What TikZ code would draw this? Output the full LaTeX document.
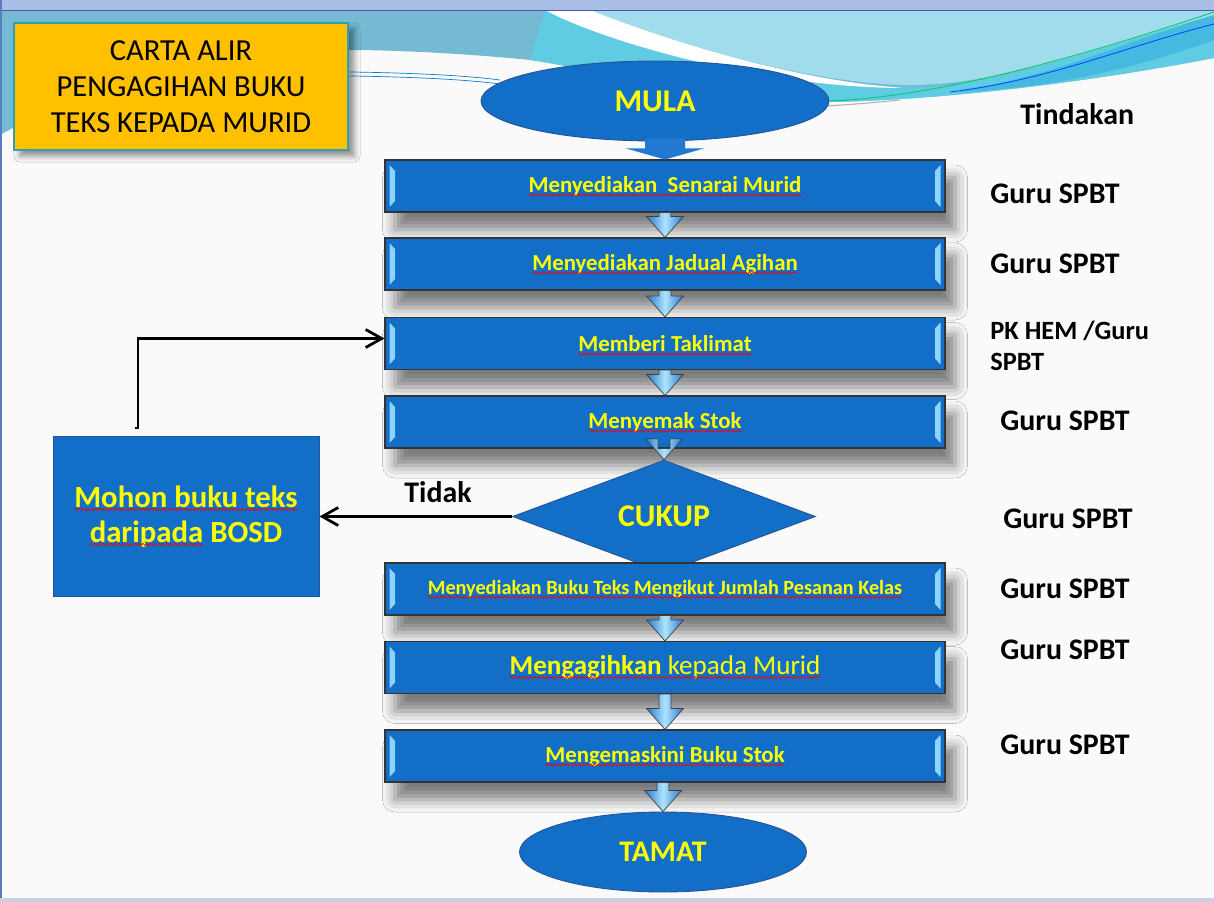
\documentclass[tikz,border=0pt]{standalone}
\usepackage{fontspec}
\setmainfont{Carlito}
\usetikzlibrary{arrows.meta,positioning,calc,shapes.geometric,shadows.blur,decorations.pathmorphing}

\definecolor{boxblue}{RGB}{18,110,198}
\definecolor{edgeblue}{RGB}{35,85,150}
\definecolor{bevelblue}{RGB}{140,212,250}
\definecolor{arrblue}{RGB}{35,120,210}
\definecolor{arrlight}{RGB}{175,228,252}
\definecolor{titleorange}{RGB}{255,192,0}
\definecolor{titleedge}{RGB}{50,160,170}
\definecolor{txtyellow}{RGB}{255,255,0}
\definecolor{bandblue}{RGB}{168,190,230}
\definecolor{tealA}{RGB}{116,186,210}
\definecolor{cyanD}{RGB}{96,204,228}
\definecolor{cyanE}{RGB}{70,185,225}
\definecolor{lightB}{RGB}{160,220,236}
\definecolor{pagebg}{RGB}{250,250,250}
\definecolor{frameblue}{RGB}{90,125,190}
\definecolor{footgray}{RGB}{200,210,230}

\newcommand{\fs}[2]{\fontsize{#1}{#2}\selectfont}
% block arrow between two stacked nodes
\newcommand{\flowdown}[2]{%
  \path[flowarr] let \p1=(#1.south), \p2=(#2.north) in
    (\x2-1.2mm,\y1) -- (\x2+1.2mm,\y1) -- (\x2+1.2mm,\y2+4.2mm) -- (\x2+3.7mm,\y2+4.2mm)
    -- (\x2,\y2) -- (\x2-3.7mm,\y2+4.2mm) -- (\x2-1.2mm,\y2+4.2mm) -- cycle;}
% red spell-check wave under the one-line text of a node
\newcommand{\spellunder}[2]{%
  \draw[spellwave] ([xshift=-0.5#2,yshift=-0.55mm]#1.base) -- ([xshift=0.5#2,yshift=-0.55mm]#1.base);}
\newlength{\wone}\newlength{\wtwo}\newlength{\wthree}\newlength{\wfour}\newlength{\wfive}
\newlength{\wsix}\newlength{\wseven}\newlength{\wmoh}\newlength{\wdar}\newlength{\wdarb}

\begin{document}
\settowidth{\wone}{\bfseries\fs{13}{15}Menyediakan\ \ Senarai Murid}%
\settowidth{\wtwo}{\bfseries\fs{13}{15}Menyediakan Jadual Agihan}%
\settowidth{\wthree}{\bfseries\fs{13}{15}Memberi Taklimat}%
\settowidth{\wfour}{\bfseries\fs{13}{15}Menyemak Stok}%
\settowidth{\wfive}{\bfseries\fs{11.5}{13}Menyediakan Buku Teks Mengikut Jumlah Pesanan Kelas}%
\settowidth{\wsix}{\fs{15.4}{17}\textbf{Mengagihkan} kepada Murid}%
\settowidth{\wseven}{\bfseries\fs{13}{15}Mengemaskini Buku Stok}%
\settowidth{\wmoh}{\bfseries\fs{17.5}{20}Mohon buku teks}%
\settowidth{\wdar}{\bfseries\fs{17.5}{20}daripada BOSD}%
\settowidth{\wdarb}{\bfseries\fs{17.5}{20}daripada}%
\begin{tikzpicture}[
  x=0.2mm, y=-0.2mm,
  every node/.style={inner sep=0pt},
  procbox/.style={draw=black!80, line width=0.6pt, fill=boxblue, minimum width=112mm,
    minimum height=10.4mm, text=txtyellow, font=\bfseries\fs{13}{15},
    blur shadow={shadow xshift=2mm, shadow yshift=-3.5mm, shadow blur radius=2.5mm, shadow opacity=50},
    path picture={
      \fill[bevelblue] ([shift={(0.9mm,-1mm)}]path picture bounding box.north west)
        -- ([shift={(2mm,-2.2mm)}]path picture bounding box.north west)
        -- ([shift={(2mm,2.2mm)}]path picture bounding box.south west)
        -- ([shift={(0.9mm,1mm)}]path picture bounding box.south west) -- cycle;
      \fill[bevelblue] ([shift={(-0.9mm,-1mm)}]path picture bounding box.north east)
        -- ([shift={(-2mm,-2.2mm)}]path picture bounding box.north east)
        -- ([shift={(-2mm,2.2mm)}]path picture bounding box.south east)
        -- ([shift={(-0.9mm,1mm)}]path picture bounding box.south east) -- cycle;
    }},
  term/.style={ellipse, draw=edgeblue, line width=0.5pt, fill=boxblue, text=txtyellow,
    font=\bfseries\fs{18}{20}, minimum height=16mm},
  decide/.style={diamond, draw=edgeblue, line width=0.5pt, fill=boxblue, text=txtyellow,
    font=\bfseries\fs{18}{20}, minimum width=60.6mm, minimum height=16.4mm},
  act/.style={anchor=west, font=\bfseries\fs{17}{19}, align=left},
  flowarr/.style={draw=black!75, line width=0.4pt, left color=arrblue, right color=arrblue,
    middle color=arrlight},
  link/.style={line width=0.55mm, -{Straight Barb[length=3.2mm,width=3.6mm]}},
  spellwave/.style={red, line width=0.4pt, decorate,
    decoration={snake, amplitude=0.22mm, segment length=0.8mm}},
]
\useasboundingbox (0,0) rectangle (1214,902);
% slide background
\fill[pagebg] (0,0) rectangle (1214,902);
\fill[tealA] (0,10) -- (1214,10) -- (1214,58)
  .. controls (1100,80) and (950,100) .. (830,102) .. controls (700,100) and (600,70) .. (530,60)
  .. controls (450,52) and (380,50) .. (350,50) .. controls (200,55) and (60,100) .. (0,135) -- cycle;
\fill[cyanD] (545,10) .. controls (600,40) and (760,88) .. (905,88)
  .. controls (1000,88) and (1120,40) .. (1214,15) -- (1214,58)
  .. controls (1100,80) and (950,100) .. (830,102) .. controls (700,100) and (600,70) .. (530,60) -- cycle;
\fill[cyanE] (960,90) .. controls (1050,78) and (1130,40) .. (1214,15) -- (1214,40)
  .. controls (1130,70) and (1050,88) .. (960,92) -- cycle;
\fill[lightB] (590,10) .. controls (640,30) and (780,80) .. (900,85)
  .. controls (1000,88) and (1120,40) .. (1214,15) -- (1214,10) -- cycle;
\fill[white] (545,10) .. controls (600,40) and (760,88) .. (905,88)
  .. controls (780,80) and (640,30) .. (590,10) -- cycle;
\draw[green!50!cyan!80!black, line width=0.5pt] (830,101) .. controls (950,96) and (1100,50) .. (1214,12);
\draw[blue!70!cyan, line width=0.5pt] (950,92) .. controls (1050,80) and (1130,45) .. (1214,24);
\draw[gray!60, line width=0.6pt] (826,106) .. controls (860,104) and (880,102) .. (900,100);
\draw[cyan!60!blue, line width=0.4pt] (350,72) .. controls (420,73) and (470,76) .. (500,80);
\draw[cyan!60!blue, line width=0.4pt] (350,76) .. controls (420,77) and (470,80) .. (500,84);
\fill[bandblue] (0,0) rectangle (1214,10);
\draw[blue!35!gray, line width=0.5pt] (0,10) -- (1214,10);
\draw[frameblue, line width=0.5mm] (1,0) -- (1,902);
\fill[footgray] (0,898) rectangle (1214,902);

% title
\node[draw=titleedge, line width=0.8pt, fill=titleorange, minimum width=66.8mm, minimum height=25.4mm,
  align=center, font=\fs{17.4}{20.5},
  blur shadow={shadow xshift=1.2mm, shadow yshift=-1.2mm, shadow blur radius=1.2mm, shadow opacity=45}]
  (title) at (181,86.5) {CARTA ALIR\\PENGAGIHAN BUKU\\TEKS KEPADA MURID};

% main flow
\node[term, minimum width=69.6mm] (mula) at (655,101) {MULA};
\node[procbox] (s1) at (665,186) {Menyediakan\ \ Senarai Murid};
\node[procbox] (s2) at (665,264) {Menyediakan Jadual Agihan};
\node[procbox] (s3) at (665,343.5) {Memberi Taklimat};
\node[procbox] (s4) at (665,422) {Menyemak Stok};
\node[decide] (cukup) at (664,516.5) {CUKUP};
\node[procbox, font=\bfseries\fs{11.5}{13}] (s5) at (665,589) {Menyediakan Buku Teks Mengikut Jumlah Pesanan Kelas};
\node[procbox, font=\fs{15.4}{17}] (s6) at (665,667.5) {\textbf{Mengagihkan} kepada Murid};
\node[procbox] (s7) at (665,756) {Mengemaskini Buku Stok};
\node[term, minimum width=57.4mm, font=\bfseries\fs{17}{19}] (tamat) at (663,852) {TAMAT};

\node[draw=edgeblue, line width=0.5pt, fill=boxblue, minimum width=53.2mm, minimum height=32mm,
  text=txtyellow, font=\bfseries\fs{17.5}{20}, align=center]
  (mohon) at (186,516.5) {Mohon buku teks\\daripada BOSD};

% spell-check waves
\spellunder{s1}{\wone}
\spellunder{s2}{\wtwo}
\spellunder{s3}{\wthree}
\spellunder{s4}{\wfour}
\spellunder{s5}{\wfive}
\spellunder{s6}{\wsix}
\spellunder{s7}{\wseven}
\draw[spellwave] ([xshift=-0.5\wmoh,yshift=1.4mm]mohon.center) -- ([xshift=0.5\wmoh,yshift=1.4mm]mohon.center);
\draw[spellwave] ([xshift=-0.5\wdar,yshift=-5.6mm]mohon.center) -- ([xshift=-0.5\wdar+\wdarb,yshift=-5.6mm]mohon.center);

\path[fill=arrblue] let \p1=(mula.south), \p2=(s1.north) in
  (\x2-4mm,\y1+0.6mm) -- (\x2+4mm,\y1+0.6mm) -- (\x2+4mm,\y2+2.2mm) -- (\x2+7.8mm,\y2+2.2mm)
  -- (\x2,\y2) -- (\x2-7.8mm,\y2+2.2mm) -- (\x2-4mm,\y2+2.2mm) -- cycle;
\flowdown{s1}{s2}
\flowdown{s2}{s3}
\flowdown{s3}{s4}
\flowdown{s4}{cukup}
\flowdown{s5}{s6}
\flowdown{s6}{s7}
\flowdown{s7}{tamat}

\draw[link] (cukup.west) -- (mohon.east);
\node[font=\bfseries\fs{17}{19}] (tidak) at (438,492) {Tidak};
\coordinate (fb) at (138,428);
\draw[link] ([xshift=-0.6mm]fb) -- (fb) |- ([yshift=1mm]s3.west);

% who does it
\node[act] (hdr) at (1020,114) {Tindakan};
\node[act] (a1) at (990,194) {Guru SPBT};
\node[act] (a2) at (990,264) {Guru SPBT};
\node[act, font=\bfseries\fs{15}{18}] (a3) at (990,346) {PK HEM /Guru\\SPBT};
\node[act] (a4) at (1000,421) {Guru SPBT};
\node[act] (a5) at (1003,519) {Guru SPBT};
\node[act] (a6) at (1000,589) {Guru SPBT};
\node[act] (a7) at (1000,650) {Guru SPBT};
\node[act] (a8) at (1000,745) {Guru SPBT};
\end{tikzpicture}
\end{document}
